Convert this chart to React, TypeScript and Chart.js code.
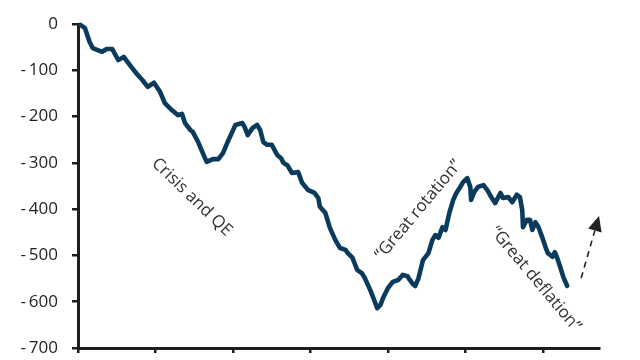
import React, { useEffect, useRef } from "react";
import { Chart, registerables } from "chart.js";

Chart.register(...registerables);

// x position in axis units (one unit per x tick interval), y = cumulative value
const xValues = [
  0.03, 0.09, 0.15, 0.19, 0.31, 0.37, 0.44, 0.52, 0.59, 0.67, 0.76, 0.83, 0.9, 0.98,
  1.06, 1.12, 1.21, 1.29, 1.34, 1.38, 1.45, 1.48, 1.55, 1.61, 1.66, 1.74, 1.81, 1.87,
  1.94, 1.99, 2.03, 2.12, 2.15, 2.19, 2.25, 2.31, 2.35, 2.39, 2.44, 2.5, 2.57, 2.62,
  2.65, 2.7, 2.76, 2.84, 2.89, 2.97, 3.05, 3.1, 3.12, 3.19, 3.25, 3.32, 3.38, 3.45,
  3.48, 3.54, 3.6, 3.66, 3.7, 3.77, 3.81, 3.86, 3.9, 3.94, 4.0, 4.06, 4.13, 4.19,
  4.25, 4.28, 4.32, 4.35, 4.39, 4.45, 4.52, 4.57, 4.61, 4.65, 4.7, 4.74, 4.79, 4.84,
  4.88, 4.93, 4.97, 5.02, 5.06, 5.07, 5.11, 5.16, 5.23, 5.28, 5.33, 5.38, 5.45, 5.48,
  5.55, 5.6, 5.66, 5.7, 5.73, 5.74, 5.79, 5.83, 5.86, 5.9, 5.94, 5.99, 6.03, 6.06,
  6.12, 6.15, 6.18, 6.22, 6.26, 6.31,
];
const yValues = [
  -2, -9, -39, -52, -60, -54, -54, -78, -71, -89, -108, -121, -136, -127,
  -147, -171, -186, -197, -194, -214, -229, -233, -255, -279, -298, -292, -292, -279,
  -251, -233, -218, -214, -223, -240, -225, -218, -229, -255, -261, -261, -283, -290,
  -300, -305, -322, -320, -343, -359, -365, -376, -395, -408, -441, -467, -484, -488,
  -495, -505, -531, -538, -549, -575, -592, -614, -607, -590, -570, -557, -553, -542,
  -545, -553, -562, -566, -550, -510, -495, -467, -456, -462, -439, -445, -408, -380,
  -365, -352, -341, -333, -352, -380, -363, -352, -348, -359, -374, -387, -365, -376,
  -374, -385, -369, -374, -402, -439, -423, -423, -445, -428, -439, -462, -482, -495,
  -503, -493, -505, -525, -547, -566,
];

const yTicks = [0, -100, -200, -300, -400, -500, -600, -700];
const xTicks = [0, 1, 2, 3, 4, 5, 6];

const annotationTexts = ["Crisis and QE", "\u201CGreat rotation\u201D", "\u201CGreat deflation\u201D"];
const annotationX = [1.47, 4.39, 5.9];
const annotationY = [-374, -402, -551];
const annotationAngle = [44, -50, 50];

const arrowFrom = { x: 6.49, y: -549 };
const arrowTo = { x: 6.72, y: -415 };

const LINE_COLOR = "#0a3b5c";
const AXIS_COLOR = "#1e1e1e";

const annotationPlugin = {
  id: "annotations",
  afterDatasetsDraw(chart: any) {
    const { ctx, scales } = chart;
    const xs = scales.x;
    const ys = scales.y;
    ctx.save();
    ctx.fillStyle = "#333333";
    ctx.font = "17px 'Open Sans'";
    ctx.textAlign = "center";
    ctx.textBaseline = "middle";
    annotationTexts.forEach((t, i) => {
      const px = xs.getPixelForValue(annotationX[i]);
      const py = ys.getPixelForValue(annotationY[i]);
      ctx.save();
      ctx.translate(px, py);
      ctx.rotate((annotationAngle[i] * Math.PI) / 180);
      ctx.fillText(t, 0, 0);
      ctx.restore();
    });
    // dashed arrow
    const x0 = xs.getPixelForValue(arrowFrom.x);
    const y0 = ys.getPixelForValue(arrowFrom.y);
    const x1 = xs.getPixelForValue(arrowTo.x);
    const y1 = ys.getPixelForValue(arrowTo.y);
    const ang = Math.atan2(y1 - y0, x1 - x0);
    const headLen = 15;
    const headW = 7;
    const bx = x1 - headLen * Math.cos(ang);
    const by = y1 - headLen * Math.sin(ang);
    ctx.strokeStyle = "#222222";
    ctx.lineWidth = 1.6;
    ctx.setLineDash([6, 5]);
    ctx.beginPath();
    ctx.moveTo(x0, y0);
    ctx.lineTo(bx, by);
    ctx.stroke();
    ctx.setLineDash([]);
    ctx.fillStyle = "#222222";
    ctx.beginPath();
    ctx.moveTo(x1, y1);
    ctx.lineTo(bx + headW * Math.sin(ang), by - headW * Math.cos(ang));
    ctx.lineTo(bx - headW * Math.sin(ang), by + headW * Math.cos(ang));
    ctx.closePath();
    ctx.fill();
    ctx.restore();
  },
};

export default function App() {
  const ref = useRef<HTMLCanvasElement | null>(null);
  useEffect(() => {
    if (!ref.current) return;
    const data = xValues.map((x, i) => ({ x, y: yValues[i] }));
    const chart = new Chart(ref.current, {
      type: "line",
      data: {
        datasets: [
          {
            data,
            borderColor: LINE_COLOR,
            borderWidth: 4.6,
            pointRadius: 0,
            tension: 0,
            borderJoinStyle: "round",
            borderCapStyle: "round",
            clip: false as any,
          },
        ],
      },
      options: {
        animation: false,
        responsive: false,
        maintainAspectRatio: false,
        layout: { padding: { top: 24, right: 41, bottom: 0, left: 0 } },
        plugins: { legend: { display: false }, tooltip: { enabled: false }, title: { display: false } },
        scales: {
          x: {
            type: "linear",
            min: 0,
            max: 6.72,
            afterFit(scale: any) {
              scale.height = 12;
              scale.paddingLeft = 0;
              scale.paddingRight = 0;
            },
            afterBuildTicks(scale: any) {
              scale.ticks = xTicks.map((v) => ({ value: v }));
            },
            ticks: { display: false, includeBounds: false },
            grid: {
              drawOnChartArea: false,
              drawTicks: true,
              tickLength: 5,
              color: AXIS_COLOR,
              lineWidth: 2.5,
            },
            border: { display: true, color: AXIS_COLOR, width: 3 },
          },
          y: {
            type: "linear",
            min: -700,
            max: 0,
            afterFit(scale: any) {
              scale.width = 78;
              scale.paddingTop = 0;
              scale.paddingBottom = 0;
            },
            afterBuildTicks(scale: any) {
              scale.ticks = yTicks.map((v) => ({ value: v }));
            },
            ticks: {
              padding: 14,
              color: "#231f20",
              font: { family: "'Open Sans'", size: 17 },
              callback: (v: any) => (v < 0 ? "-\u2009" + String(-v) : String(v)),
            },
            grid: {
              drawOnChartArea: false,
              drawTicks: true,
              tickLength: 6,
              color: AXIS_COLOR,
              lineWidth: 2.5,
            },
            border: { display: true, color: AXIS_COLOR, width: 3 },
          },
        },
      },
      plugins: [annotationPlugin],
    });
    return () => chart.destroy();
  }, []);
  return (
    <div style={{ position: "fixed", left: 0, top: 0, width: 640, height: 360, background: "#fff" }}>
      <canvas ref={ref} width={640} height={360} style={{ display: "block", width: 640, height: 360 }} />
    </div>
  );
}
